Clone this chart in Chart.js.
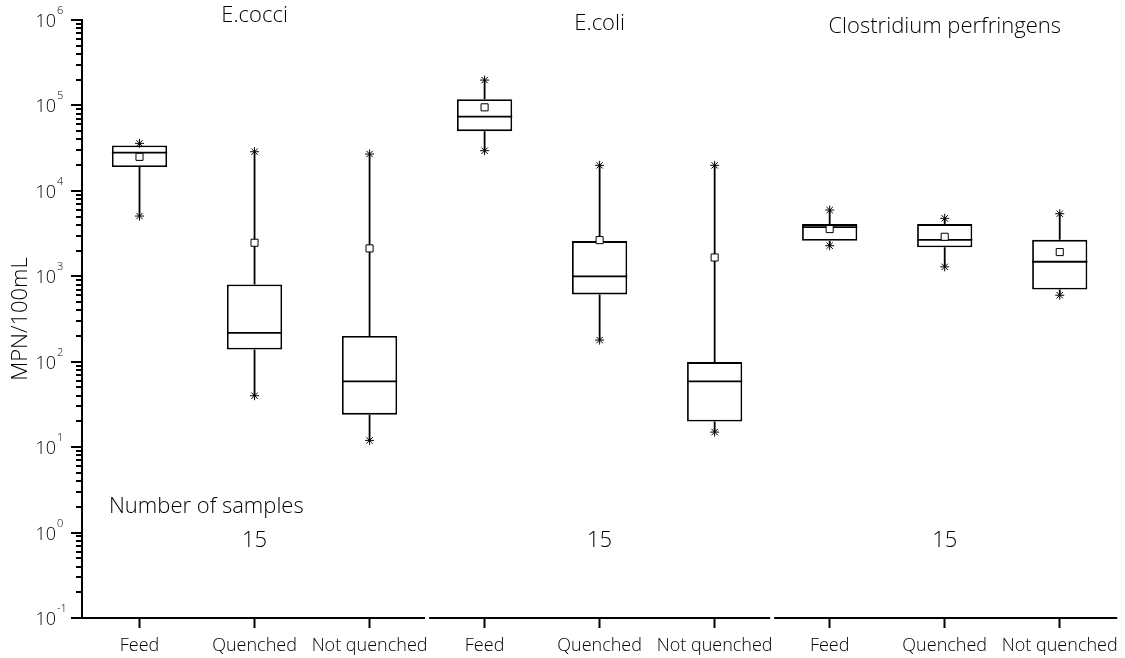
<!DOCTYPE html>
<html>
<head>
<meta charset="utf-8">
<script src="https://cdn.jsdelivr.net/npm/chart.js@4"></script>
<style>
  html, body { margin: 0; padding: 0; background: #fff; }
  #wrap { width: 1125px; height: 658px; }
</style>
</head>
<body>
<div id="wrap"><canvas id="boxChart" width="1125" height="658"></canvas></div>
<script>
// categories (three panels of three)
var labels = ['Feed', 'Quenched', 'Not quenched', 'Feed', 'Quenched', 'Not quenched', 'Feed', 'Quenched', 'Not quenched'];
var groupNames = ['E.cocci', 'E.coli', 'Clostridium perfringens'];
var sampleCounts = [15, 15, 15];

// box statistics, MPN/100mL
var q1Vals     = [19000, 139, 24, 50000, 614, 20, 2600, 2180, 700];
var medianVals = [28000, 218, 59, 74000, 1000, 59, 3770, 2670, 1480];
var q3Vals     = [34000, 800, 200, 118000, 2580, 99, 4080, 4080, 2670];
var meanVals   = [25000, 2470, 2120, 95000, 2650, 1660, 3570, 2900, 1920];
var minVals    = [5070, 40, 12, 29500, 179, 15, 2280, 1290, 600];
var maxVals    = [36000, 28700, 27000, 198000, 19900, 19900, 5960, 4770, 5400];

// y tick decades
var yExponents = [-1, 0, 1, 2, 3, 4, 5, 6];

var FONT = '"Open Sans", "Noto Sans", sans-serif';

var boxExtras = {
    id: 'boxExtras',
    beforeDatasetsDraw: function(chart) {
        // whiskers
        var ctx = chart.ctx, y = chart.scales.y;
        var meta = chart.getDatasetMeta(0);
        ctx.save();
        ctx.strokeStyle = '#000';
        ctx.lineWidth = 1.8;
        meta.data.forEach(function(bar, i) {
            ctx.beginPath();
            ctx.moveTo(bar.x, y.getPixelForValue(maxVals[i]));
            ctx.lineTo(bar.x, y.getPixelForValue(q3Vals[i]));
            ctx.moveTo(bar.x, y.getPixelForValue(q1Vals[i]));
            ctx.lineTo(bar.x, y.getPixelForValue(minVals[i]));
            ctx.stroke();
        });
        ctx.restore();
    },
    afterDatasetDraw: function(chart, args) {
        if (args.index !== 0) return;
        // median lines
        var ctx = chart.ctx, y = chart.scales.y;
        ctx.save();
        ctx.strokeStyle = '#000';
        ctx.lineWidth = 1.8;
        args.meta.data.forEach(function(bar, i) {
            var py = y.getPixelForValue(medianVals[i]);
            ctx.beginPath();
            ctx.moveTo(bar.x - bar.width / 2, py);
            ctx.lineTo(bar.x + bar.width / 2, py);
            ctx.stroke();
        });
        ctx.restore();
    },
    afterDraw: function(chart) {
        var ctx = chart.ctx, y = chart.scales.y, x = chart.scales.x;
        var area = chart.chartArea;
        ctx.save();
        ctx.strokeStyle = '#000';
        ctx.fillStyle = '#000';

        // y tick marks and labels
        ctx.lineWidth = 2;
        y.ticks.forEach(function(t) {
            var lg = Math.log10(t.value);
            var major = Math.abs(lg - Math.round(lg)) < 1e-6;
            var py = Math.round(y.getPixelForValue(t.value));
            ctx.beginPath();
            ctx.moveTo(area.left - (major ? 11 : 6), py);
            ctx.lineTo(area.left, py);
            ctx.stroke();
            if (major) {
                ctx.textBaseline = 'middle';
                ctx.textAlign = 'right';
                ctx.font = '300 18px ' + FONT;
                ctx.fillText('10', 56, py + 2);
                ctx.textAlign = 'left';
                ctx.font = '300 11px ' + FONT;
                ctx.fillText(String(Math.round(lg)), 57, py - 9);
            }
        });

        // broken x axis line, one piece per panel
        ctx.lineWidth = 2;
        var edges = [area.left];
        for (var g = 1; g < groupNames.length; g++) {
            edges.push((x.getPixelForValue(g * 3 - 1) + x.getPixelForValue(g * 3)) / 2);
        }
        edges.push(area.right);
        for (var k = 0; k < groupNames.length; k++) {
            var a = edges[k] + (k > 0 ? 2 : -1);
            var b = edges[k + 1] - (k < groupNames.length - 1 ? 2 : 0);
            ctx.beginPath();
            ctx.moveTo(a, area.bottom);
            ctx.lineTo(b, area.bottom);
            ctx.stroke();
        }

        // panel titles and sample counts
        ctx.textAlign = 'center';
        ctx.textBaseline = 'middle';
        var titleOffsets = [-4, 4, 7];
        groupNames.forEach(function(name, g) {
            var cx = x.getPixelForValue(g * 3 + 1);
            ctx.font = '300 22px ' + FONT;
            ctx.fillText(name, cx, area.top + titleOffsets[g]);
            ctx.fillText(String(sampleCounts[g]), cx, y.getPixelForValue(1) + 8);
        });
        ctx.textAlign = 'left';
        ctx.font = '300 22px ' + FONT;
        ctx.fillText('Number of samples', area.left + 27, y.getPixelForValue(1) - 26);
        ctx.restore();
    }
};

function initialize() {
    var ctxBox = document.getElementById('boxChart').getContext('2d');
    new Chart(ctxBox, {
        type: 'bar',
        data: {
            labels: labels,
            datasets: [{
                label: 'IQR',
                data: q1Vals.map(function(v, i) { return [v, q3Vals[i]]; }),
                backgroundColor: '#fff',
                borderColor: '#000',
                borderWidth: 1.8,
                borderSkipped: false,
                barPercentage: 0.48,
                categoryPercentage: 1,
                order: 3
            }, {
                type: 'line',
                label: 'Max',
                data: maxVals,
                showLine: false,
                pointStyle: 'star',
                pointRadius: 4.5,
                borderColor: '#000',
                pointBorderWidth: 1,
                order: 2
            }, {
                type: 'line',
                label: 'Min',
                data: minVals,
                showLine: false,
                pointStyle: 'star',
                pointRadius: 4.5,
                borderColor: '#000',
                pointBorderWidth: 1,
                order: 2
            }, {
                type: 'line',
                label: 'Mean',
                data: meanVals,
                showLine: false,
                pointStyle: 'rect',
                pointRadius: 5,
                backgroundColor: '#fff',
                borderColor: '#000',
                pointBorderWidth: 1,
                order: 1
            }]
        },
        options: {
            responsive: false,
            animation: false,
            layout: { padding: { top: 20, right: 5, left: 0, bottom: 0 } },
            plugins: {
                legend: { display: false },
                tooltip: { enabled: false }
            },
            scales: {
                x: {
                    type: 'category',
                    offset: true,
                    border: { display: false },
                    grid: {
                        display: true,
                        drawOnChartArea: false,
                        offset: false,
                        tickLength: 10,
                        tickWidth: 2,
                        tickColor: '#000'
                    },
                    ticks: {
                        color: '#000',
                        padding: 7,
                        maxRotation: 0,
                        autoSkip: false,
                        font: { family: FONT, size: 18, weight: '300' }
                    },
                    afterFit: function(scale) { scale.height = 40; }
                },
                y: {
                    type: 'logarithmic',
                    min: 0.1,
                    max: 1000000,
                    border: { display: true, color: '#000', width: 2 },
                    grid: { display: false },
                    ticks: { display: false },
                    title: {
                        display: true,
                        text: 'MPN/100mL',
                        color: '#000',
                        padding: { top: 8, bottom: 0 },
                        font: { family: FONT, size: 22, weight: '300' }
                    },
                    afterBuildTicks: function(scale) {
                        var ticks = [];
                        yExponents.forEach(function(e, i) {
                            var base = Math.pow(10, e);
                            ticks.push({ value: base, major: true });
                            if (i < yExponents.length - 1) {
                                for (var d = 2; d <= 9; d++) ticks.push({ value: d * base, major: false });
                            }
                        });
                        scale.ticks = ticks;
                    },
                    afterFit: function(scale) { scale.width = 82; }
                }
            }
        },
        plugins: [boxExtras]
    });
}

initialize();
</script>
</body>
</html>
